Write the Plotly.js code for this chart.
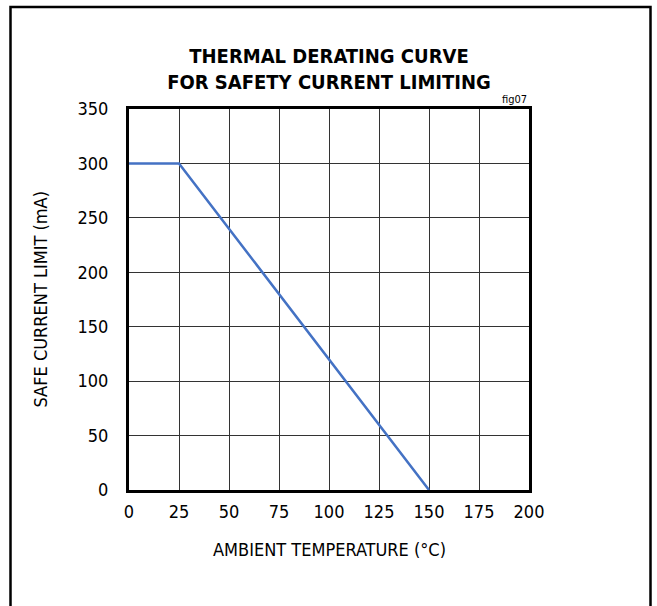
<!DOCTYPE html>
<html>
<head>
<meta charset="utf-8">
<script src="https://cdn.plot.ly/plotly-3.0.1.min.js"></script>
<style>
html,body{margin:0;padding:0;background:#fff;}
#chart{width:657px;height:606px;}
</style>
</head>
<body>
<div id="chart"></div>
<script>
// Data
const temperature = [0, 25, 150];
const safeCurrent = [300, 300, 0];
const xTicks = [0, 25, 50, 75, 100, 125, 150, 175, 200];
const yTicks = [0, 50, 100, 150, 200, 250, 300, 350];
const chartTitle = 'THERMAL DERATING CURVE<br>FOR SAFETY CURRENT LIMITING';
const xTitle = 'AMBIENT TEMPERATURE (°C)';
const yTitle = 'SAFE CURRENT LIMIT (mA)';
const figTag = 'fig07';

const FONT = 'Liberation Sans Narrow, Arial Narrow, DejaVu Sans Condensed, sans-serif';

const W = 657, H = 606;
const L = 129, R = 529, T = 109, B = 490;
const pw = R - L, ph = B - T;
const px = v => (v - L) / pw;
const py = v => (B - v) / ph;

const trace = {
  x: temperature,
  y: safeCurrent,
  type: 'scatter',
  mode: 'lines',
  line: {color: '#4472C4', width: 2.5},
  hoverinfo: 'skip',
  showlegend: false
};

const axisCommon = {
  showgrid: true,
  gridcolor: '#333',
  gridwidth: 1,
  zeroline: false,
  showline: true,
  linecolor: '#000',
  linewidth: 3,
  mirror: true,
  ticks: '',
  tickfont: {family: FONT, size: 18, color: '#000'},
  fixedrange: true
};

const layout = {
  width: W, height: H,
  margin: {l: L, r: W - R, t: T, b: H - B},
  paper_bgcolor: '#fff',
  plot_bgcolor: '#fff',
  title: {
    text: chartTitle,
    font: {family: FONT, size: 20, color: '#000', weight: 'bold'},
    x: 0.5, xref: 'paper', xanchor: 'center',
    y: 1 - 63 / H, yref: 'container', yanchor: 'top'
  },
  xaxis: Object.assign({}, axisCommon, {
    range: [0, 200],
    tickvals: xTicks,
    ticktext: xTicks.map(String),
    ticklabelstandoff: 3
  }),
  yaxis: Object.assign({}, axisCommon, {
    range: [0, 350],
    tickvals: yTicks,
    ticktext: yTicks.map(String),
    ticklabelstandoff: 14
  }),
  annotations: [
    {
      text: xTitle, xref: 'paper', yref: 'paper',
      x: 0.5, y: py(549), xanchor: 'center', yanchor: 'middle',
      showarrow: false, font: {family: FONT, size: 18, color: '#000'}
    },
    {
      text: yTitle, xref: 'paper', yref: 'paper',
      x: px(40), y: 0.5, xanchor: 'center', yanchor: 'middle', textangle: -90,
      showarrow: false, font: {family: FONT, size: 18, color: '#000'}
    },
    {
      text: figTag, xref: 'paper', yref: 'paper',
      x: 1, y: py(108), xanchor: 'right', yanchor: 'bottom',
      showarrow: false, font: {family: FONT, size: 11, color: '#000'}
    }
  ],
  shapes: [
    {
      type: 'rect', xref: 'paper', yref: 'paper', layer: 'below',
      x0: px(10.5), x1: px(650.5), y0: py(620), y1: py(7),
      line: {color: '#000', width: 2.5}, fillcolor: 'rgba(0,0,0,0)'
    }
  ]
};

Plotly.newPlot('chart', [trace], layout, {displayModeBar: false, staticPlot: true});
</script>
</body>
</html>
